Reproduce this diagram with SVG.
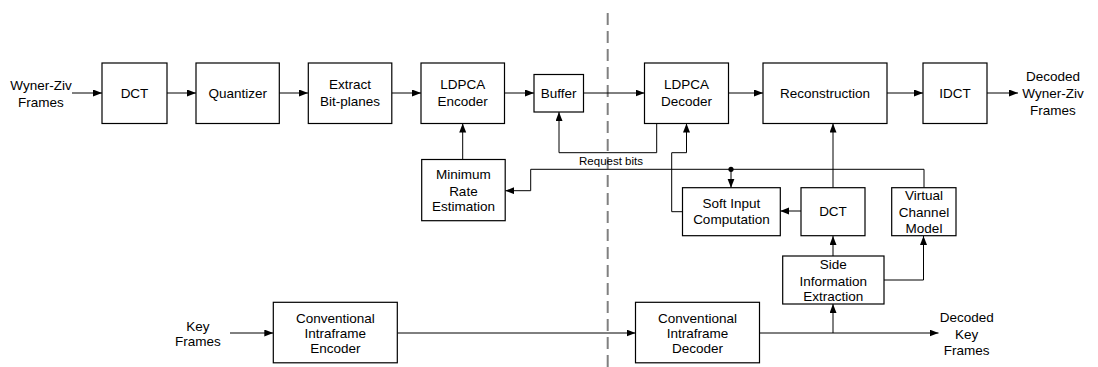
<svg xmlns="http://www.w3.org/2000/svg" width="1098" height="367" viewBox="0 0 1098 367">
  <defs>
    <marker id="arrow" markerUnits="userSpaceOnUse" markerWidth="10" markerHeight="8" refX="9" refY="3.5" orient="auto">
      <path d="M0,0 L9,3.5 L0,7 z" fill="#000"/>
    </marker>
    <style>
      .box { fill: #fff; stroke: #000; stroke-width: 1.2; }
      .lbl { font-family: "Liberation Sans", Arial, sans-serif; font-size: 13.5px; fill: #000; text-anchor: middle; }
      .small { font-family: "Liberation Sans", Arial, sans-serif; font-size: 11.5px; fill: #000; text-anchor: middle; }
      .wire { fill: none; stroke: #000; stroke-width: 1; }
      .arr { marker-end: url(#arrow); }
      .divider { stroke: #808080; stroke-width: 2; stroke-dasharray: 12 6; }
    </style>
  </defs>
  <rect width="1098" height="367" fill="#fff"/>

  <!-- encoder / decoder boundary -->
  <line class="divider" x1="607.7" y1="13" x2="607.7" y2="367"/>

  <!-- free-standing labels -->
  <g id="input-wz">
    <text class="lbl" x="41" y="90">Wyner-Ziv</text>
    <text class="lbl" x="41" y="106.5">Frames</text>
  </g>
  <g id="output-wz">
    <text class="lbl" x="1053" y="80.5">Decoded</text>
    <text class="lbl" x="1053" y="98">Wyner-Ziv</text>
    <text class="lbl" x="1053" y="115">Frames</text>
  </g>
  <g id="input-key">
    <text class="lbl" x="198" y="331">Key</text>
    <text class="lbl" x="198" y="345.5">Frames</text>
  </g>
  <g id="output-key">
    <text class="lbl" x="966.7" y="322">Decoded</text>
    <text class="lbl" x="966.7" y="339">Key</text>
    <text class="lbl" x="966.7" y="355">Frames</text>
  </g>

  <!-- connectors -->
  <g id="connectors">
    <line class="wire arr" x1="72" y1="93" x2="102" y2="93"/>
    <line class="wire arr" x1="167" y1="93" x2="196" y2="93"/>
    <line class="wire arr" x1="279" y1="93" x2="308" y2="93"/>
    <line class="wire arr" x1="392" y1="93" x2="421" y2="93"/>
    <line class="wire arr" x1="504.5" y1="93" x2="534" y2="93"/>
    <line class="wire arr" x1="583.5" y1="93" x2="644.5" y2="93"/>
    <line class="wire arr" x1="728.5" y1="93" x2="763" y2="93"/>
    <line class="wire arr" x1="887" y1="93" x2="923" y2="93"/>
    <line class="wire arr" x1="987" y1="93" x2="1018" y2="93"/>

    <!-- rate estimation to encoder -->
    <line class="wire arr" x1="462.7" y1="159.5" x2="462.7" y2="123.5"/>
    <!-- request bits loop -->
    <polyline class="wire arr" points="656.7,123.5 656.7,152.7 559,152.7 559,112"/>
    <!-- soft input to decoder -->
    <polyline class="wire arr" points="682.5,211.7 671.7,211.7 671.7,152.7 686.5,152.7 686.5,123.5"/>
    <!-- channel model feedback -->
    <polyline class="wire arr" points="924,187.7 924,169.3 530.7,169.3 530.7,190.7 505.3,190.7"/>
    <circle cx="731" cy="169.3" r="2.6" fill="#000"/>
    <line class="wire arr" x1="731" y1="169.3" x2="731" y2="187.7"/>
    <!-- side information path -->
    <line class="wire arr" x1="801" y1="211" x2="780.3" y2="211"/>
    <line class="wire arr" x1="833" y1="187.7" x2="833" y2="123.5"/>
    <line class="wire arr" x1="833" y1="256" x2="833" y2="236"/>
    <polyline class="wire arr" points="884,280 923.5,280 923.5,236"/>
    <!-- key frame path -->
    <line class="wire arr" x1="230" y1="333" x2="273.3" y2="333"/>
    <line class="wire arr" x1="397.3" y1="333" x2="635.5" y2="333"/>
    <line class="wire arr" x1="759.5" y1="333" x2="938.5" y2="333"/>
    <line class="wire arr" x1="833" y1="333" x2="833" y2="304"/>
  </g>

  <!-- nodes -->
  <g id="dct">
    <rect class="box" x="102" y="63" width="65" height="60.5"/>
    <text class="lbl" x="134.5" y="97.5">DCT</text>
  </g>
  <g id="quantizer">
    <rect class="box" x="196" y="63" width="83.3" height="60.5"/>
    <text class="lbl" x="237.7" y="97.5">Quantizer</text>
  </g>
  <g id="extract">
    <rect class="box" x="308.3" y="63" width="83.5" height="60.5"/>
    <text class="lbl" x="350" y="89">Extract</text>
    <text class="lbl" x="350" y="106">Bit-planes</text>
  </g>
  <g id="ldpca-encoder">
    <rect class="box" x="421" y="63" width="83.5" height="60.5"/>
    <text class="lbl" x="462.7" y="89">LDPCA</text>
    <text class="lbl" x="462.7" y="106">Encoder</text>
  </g>
  <g id="buffer">
    <rect class="box" x="534" y="74.5" width="49.5" height="37.5"/>
    <text class="lbl" x="558.7" y="97.5">Buffer</text>
  </g>
  <g id="ldpca-decoder">
    <rect class="box" x="644.5" y="63" width="84" height="60.5"/>
    <text class="lbl" x="686.5" y="89">LDPCA</text>
    <text class="lbl" x="686.5" y="106">Decoder</text>
  </g>
  <g id="reconstruction">
    <rect class="box" x="763" y="63" width="124" height="60.5"/>
    <text class="lbl" x="825" y="97.5">Reconstruction</text>
  </g>
  <g id="idct">
    <rect class="box" x="923" y="63" width="64" height="60.5"/>
    <text class="lbl" x="955" y="97.5">IDCT</text>
  </g>
  <g id="min-rate">
    <rect class="box" x="421.7" y="159.5" width="83.5" height="61.2"/>
    <text class="lbl" x="463.4" y="179">Minimum</text>
    <text class="lbl" x="463.4" y="196">Rate</text>
    <text class="lbl" x="463.4" y="211">Estimation</text>
  </g>
  <g id="request-label">
    <text class="small" x="611" y="164.5">Request bits</text>
  </g>
  <g id="soft-input">
    <rect class="box" x="682.5" y="187.7" width="97.8" height="48"/>
    <text class="lbl" x="731.4" y="207.5">Soft Input</text>
    <text class="lbl" x="731.4" y="224">Computation</text>
  </g>
  <g id="dct-si">
    <rect class="box" x="801" y="187.7" width="64" height="48"/>
    <text class="lbl" x="833" y="216">DCT</text>
  </g>
  <g id="channel-model">
    <rect class="box" x="891.7" y="187.7" width="64.3" height="48"/>
    <text class="lbl" x="924" y="200">Virtual</text>
    <text class="lbl" x="924" y="216.5">Channel</text>
    <text class="lbl" x="924" y="232.5">Model</text>
  </g>
  <g id="side-info">
    <rect class="box" x="782.7" y="256" width="101.3" height="48"/>
    <text class="lbl" x="833.3" y="269">Side</text>
    <text class="lbl" x="833.3" y="285.5">Information</text>
    <text class="lbl" x="833.3" y="301">Extraction</text>
  </g>
  <g id="intra-encoder">
    <rect class="box" x="273.3" y="302.3" width="124" height="60.5"/>
    <text class="lbl" x="335.3" y="322.5">Conventional</text>
    <text class="lbl" x="335.3" y="338">Intraframe</text>
    <text class="lbl" x="335.3" y="353">Encoder</text>
  </g>
  <g id="intra-decoder">
    <rect class="box" x="635.5" y="302.3" width="124" height="60.5"/>
    <text class="lbl" x="697.5" y="322.5">Conventional</text>
    <text class="lbl" x="697.5" y="338">Intraframe</text>
    <text class="lbl" x="697.5" y="353">Decoder</text>
  </g>
</svg>
